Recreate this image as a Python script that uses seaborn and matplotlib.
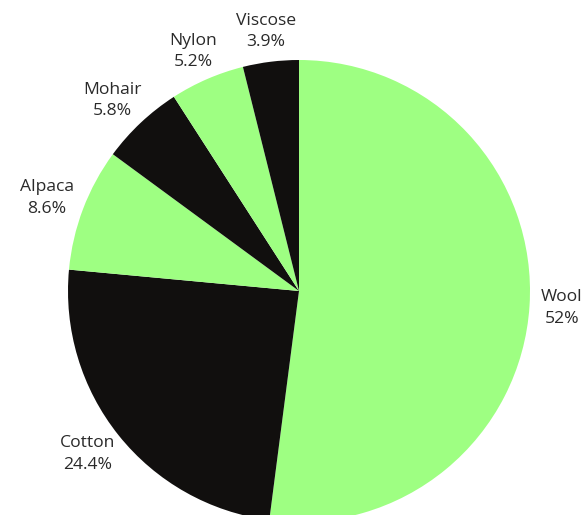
import matplotlib
matplotlib.use("Agg")
import matplotlib.pyplot as plt
import matplotlib.transforms as mtrans
import numpy as np
import seaborn as sns

categories = ["Wool", "Cotton", "Alpaca", "Mohair", "Nylon", "Viscose"]
values = [52.0, 24.4, 8.6, 5.8, 5.2, 3.9]
pct_labels = ["52%", "24.4%", "8.6%", "5.8%", "5.2%", "3.9%"]

sns.set_theme(style="white")
plt.rcParams["font.family"] = ["Open Sans", "DejaVu Sans"]

green = "#9eff82"
black = "#110f0e"
colors = [green, black, green, black, green, black]

fig = plt.figure(figsize=(5.87, 5.15), dpi=100)
ax = fig.add_axes([0, 0, 1, 1])
wedges, _ = ax.pie(values, colors=colors, startangle=90, counterclock=False,
                   wedgeprops=dict(linewidth=0))
R = 231.0
ax.set_xlim(-299 / R, 288 / R)
ax.set_ylim(-224 / R, 291 / R)
ax.set_aspect("auto")
ax.axis("off")

fig.canvas.draw()
renderer = fig.canvas.get_renderer()
gap = 1.05
for w, c, p in zip(wedges, categories, pct_labels):
    th = np.deg2rad((w.theta1 + w.theta2) / 2)
    x, y = gap * np.cos(th), gap * np.sin(th)
    t = ax.text(x, y, f"{c}\n{p}", ha="center", va="center", fontsize=12.6,
                color="#2a2a2a", linespacing=1.45, multialignment="center")
    bb = t.get_window_extent(renderer)
    dx = bb.width / 2 * np.cos(th)
    dy = bb.height / 2 * np.sin(th)
    t.set_transform(ax.transData + mtrans.ScaledTranslation(dx / 100, dy / 100, fig.dpi_scale_trans))

fig.savefig("out.png", dpi=100)
